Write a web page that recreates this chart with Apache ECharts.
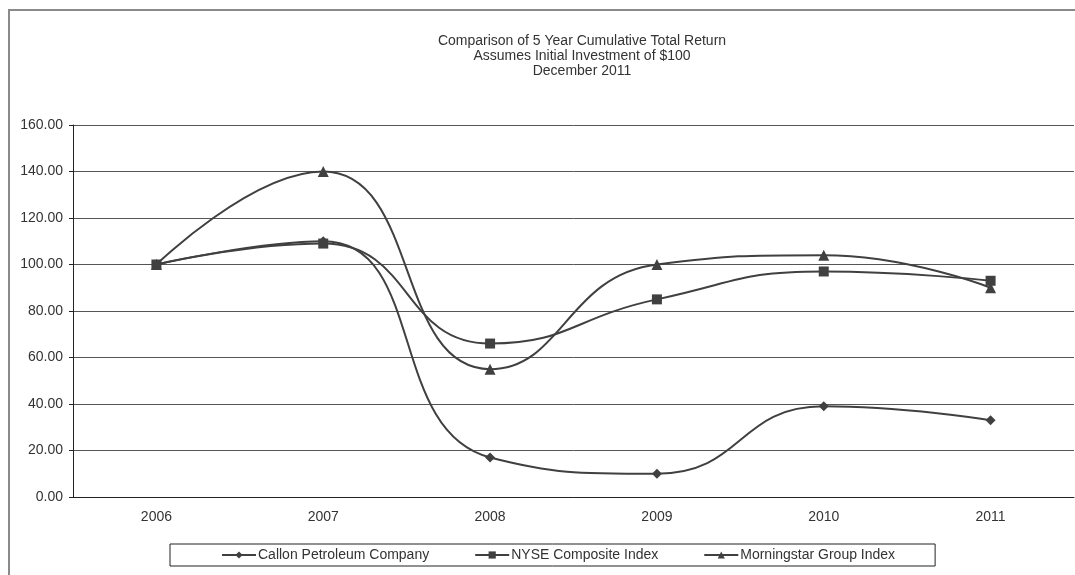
<!DOCTYPE html>
<html>
<head>
<meta charset="utf-8">
<script src="https://cdn.jsdelivr.net/npm/echarts@6/dist/echarts.min.js"></script>
<style>html,body{margin:0;padding:0;background:#fff}#c{width:1075px;height:575px}</style>
</head>
<body>
<div id="c"></div>
<script>
var years = ['2006', '2007', '2008', '2009', '2010', '2011'];
var callon = [100, 110, 17, 10, 39, 33];
var nyse = [100, 109, 66, 85, 97, 93];
var morningstar = [100, 140, 55, 100, 104, 90];
var yTicks = { min: 0, max: 160, interval: 20 };
var titleLines = ['Comparison of 5 Year Cumulative Total Return', 'Assumes Initial Investment of $100', 'December 2011'];
var seriesNames = ['Callon Petroleum Company', 'NYSE Composite Index', 'Morningstar Group Index'];

var FONT = 'Liberation Sans, Arial, sans-serif';
var LINE = '#404040';
function mkSeries(name, data, symbol, size) {
  return {
    name: name, type: 'line', data: data, smooth: 0.5,
    symbol: symbol, symbolSize: size,
    lineStyle: { color: LINE, width: 2 },
    itemStyle: { color: LINE },
    emphasis: { disabled: true }
  };
}
var chart = echarts.init(document.getElementById('c'), null, { renderer: 'canvas' });
chart.setOption({
  animation: false,
  backgroundColor: '#fff',
  graphic: [{
    type: 'rect', shape: { x: 9, y: 10, width: 1200, height: 700 },
    style: { fill: 'none', stroke: '#8a8a8a', lineWidth: 2 }, z: -1
  }],
  title: {
    text: titleLines.join('\n'),
    left: 577, top: 29, textAlign: 'center',
    textStyle: { fontFamily: FONT, fontSize: 14, fontWeight: 'normal', color: '#333', lineHeight: 15 }
  },
  legend: {
    left: 170, top: 544,
    data: seriesNames,
    itemWidth: 34, itemHeight: 9, itemGap: 45,
    padding: [4, 40, 4, 51],
    borderColor: '#222', borderWidth: 1,
    textStyle: { fontFamily: FONT, fontSize: 14, color: '#333', padding: [0, 0, 0, -3] },
    selectedMode: false
  },
  grid: { left: 73, right: 1, top: 125, bottom: 78 },
  xAxis: {
    type: 'category', data: years, boundaryGap: true,
    axisLine: { lineStyle: { color: '#222', width: 1 } },
    axisTick: { alignWithLabel: true, inside: true, length: 3, lineStyle: { color: '#222' } },
    axisLabel: { fontFamily: FONT, fontSize: 14, color: '#333', margin: 13 }
  },
  yAxis: {
    type: 'value', min: yTicks.min, max: yTicks.max, interval: yTicks.interval,
    axisLine: { show: true, lineStyle: { color: '#222', width: 1 } },
    axisTick: { show: true, length: 4, lineStyle: { color: '#222' } },
    axisLabel: { fontFamily: FONT, fontSize: 14, color: '#333', margin: 10,
      formatter: function (v) { return v.toFixed(2); } },
    splitLine: { lineStyle: { color: '#555', width: 1 } }
  },
  series: [
    mkSeries(seriesNames[0], callon, 'diamond', 10),
    mkSeries(seriesNames[1], nyse, 'rect', 10),
    mkSeries(seriesNames[2], morningstar, 'triangle', 11)
  ]
});
</script>
</body>
</html>
